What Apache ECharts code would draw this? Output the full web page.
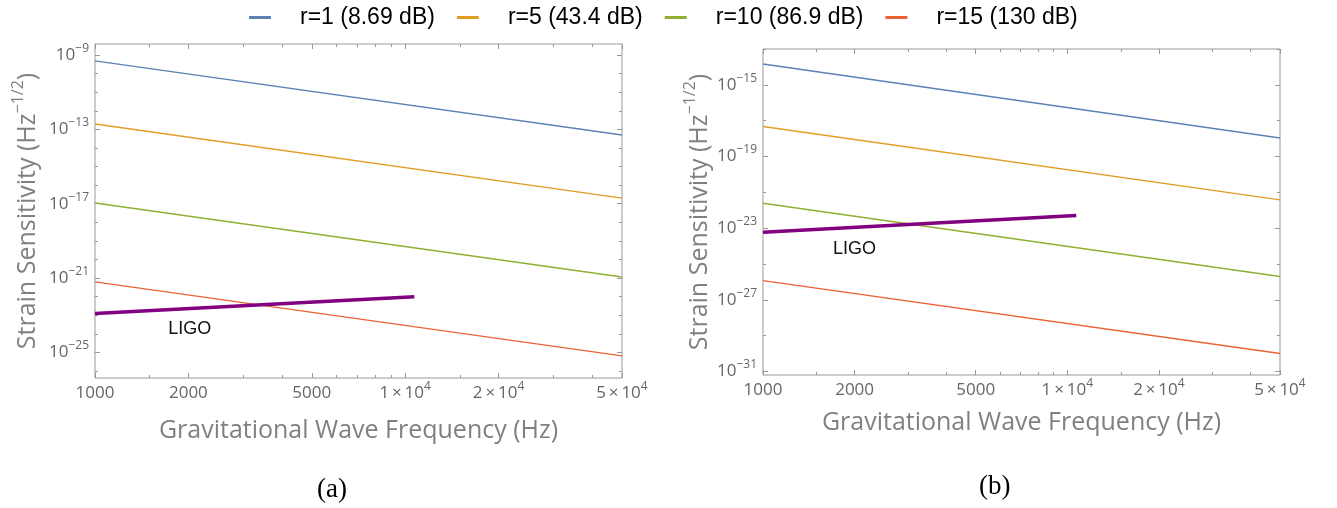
<!DOCTYPE html>
<html>
<head>
<meta charset="utf-8">
<script src="https://cdn.jsdelivr.net/npm/echarts@6/dist/echarts.min.js"></script>
<style>
    html, body { margin: 0; background: #fff; }
    #chart { width: 1337px; height: 508px; }
</style>
</head>
<body>
<div id="chart"></div>
<script>
// squeezing factors shown in the legend
const seriesNames = ['r=1 (8.69 dB)', 'r=5 (43.4 dB)', 'r=10 (86.9 dB)', 'r=15 (130 dB)'];
const seriesColors = ['#5E81B5', '#E19C24', '#8FB032', '#EB6235'];

// every curve is a straight line on log-log axes, read at both ends
const freqRange = [1000, 50000];

// panel (a): strain at 1000 Hz and at 50000 Hz
const panelAStart = [4.8e-10, 1.95e-13, 1.1e-17, 6.3e-22];
const panelAEnd = [5.0e-14, 2.0e-17, 1.15e-21, 6.6e-26];

// panel (b)
const panelBStart = [1.45e-14, 4.7e-18, 2.45e-22, 1.17e-26];
const panelBEnd = [1.07e-18, 3.8e-22, 2.0e-26, 1.0e-30];

// LIGO reference curve
const ligoFreq = [1000, 10700];
const ligoA = [1.26e-23, 1.0e-22];
const ligoB = [5.9e-24, 5.0e-23];

// ticks
const xMajorTicks = [1000, 2000, 5000, 10000, 20000, 50000];
const xMinorTicks = [1500, 3000, 4000, 6000, 7000, 8000, 9000, 15000, 30000, 40000];
const yMajorA = [-9, -13, -17, -21, -25];
const yMinorA = [-10, -11, -12, -14, -15, -16, -18, -19, -20, -22, -23, -24, -26];
const yMajorB = [-15, -19, -23, -27, -31];
const yMinorB = [-13, -17, -21, -25, -29];
const yRangeA = [-26.37, -8.41];
const yRangeB = [-31.2, -13.0];

const LOG = Math.log10;
const FONT = 'Open Sans';
const FRAME = '#999';
const LABEL = '#666';
const TITLE = '#808080';

function xLabel(v) {
    const f = Math.round(Math.pow(10, v));
    if (f < 10000) return '{b|' + f + '}';
    const e = Math.floor(LOG(f) + 1e-9);
    const m = Math.round(f / Math.pow(10, e));
    return '{b|' + m + '\u2009\u00d7\u200910}{s|' + e + '}';
}

function yLabel(v) {
    const e = Math.round(v);
    return '{b|10}{s|\u2212' + (-e) + '}';
}

function tick(values, length) {
    return {
        show: true,
        inside: true,
        length: length,
        customValues: values,
        lineStyle: { color: FRAME, width: 1 }
    };
}

function buildAxes(g, yRange, yMajor, yMinor, gaps) {
    const xMin = LOG(freqRange[0]);
    const xMax = LOG(freqRange[1]);
    const xMaj = xMajorTicks.map(LOG);
    const xMnr = xMinorTicks.map(LOG);

    const base = {
        gridIndex: g,
        type: 'value',
        axisLine: { show: false },
        splitLine: { show: false },
        axisLabel: { show: false }
    };
    const xb = Object.assign({}, base, { min: xMin, max: xMax });
    const yb = Object.assign({}, base, { min: yRange[0], max: yRange[1] });

    const labelRich = {
        b: { fontFamily: FONT, fontSize: 17, color: LABEL, lineHeight: 25 },
        s: { fontFamily: FONT, fontSize: 12, color: LABEL, verticalAlign: 'top' }
    };

    const xAxes = [
        Object.assign({}, xb, {
            position: 'bottom',
            axisTick: tick(xMaj, 5),
            axisLabel: { show: true, customValues: xMaj, margin: 3, formatter: xLabel, rich: labelRich },
            name: 'Gravitational Wave Frequency (Hz)',
            nameLocation: 'middle',
            nameGap: gaps[0],
            nameTextStyle: { fontFamily: FONT, fontSize: 25, color: TITLE }
        }),
        Object.assign({}, xb, { position: 'bottom', axisTick: tick(xMnr, 3) }),
        Object.assign({}, xb, { position: 'top', axisTick: tick(xMaj, 5) }),
        Object.assign({}, xb, { position: 'top', axisTick: tick(xMnr, 3) })
    ];

    const yAxes = [
        Object.assign({}, yb, {
            position: 'left',
            axisTick: tick(yMajor, 5),
            axisLabel: { show: true, customValues: yMajor, margin: 6, formatter: yLabel, rich: labelRich },
            name: '{m|Strain Sensitivity (Hz}{sup|\u22121/2}{m|)}',
            nameLocation: 'middle',
            nameGap: gaps[1],
            nameTextStyle: {
                rich: {
                    m: { fontFamily: FONT, fontSize: 25, color: TITLE, lineHeight: 36 },
                    sup: { fontFamily: FONT, fontSize: 16, color: TITLE, verticalAlign: 'top' }
                }
            }
        }),
        Object.assign({}, yb, { position: 'left', axisTick: tick(yMinor, 3) }),
        Object.assign({}, yb, { position: 'right', axisTick: tick(yMajor, 5) }),
        Object.assign({}, yb, { position: 'right', axisTick: tick(yMinor, 3) })
    ];

    return { xAxes, yAxes };
}

function panelSeries(g, starts, ends, ligo, ligoLabelAt) {
    const idx = g * 4;
    const list = seriesNames.map((name, i) => ({
        name: name,
        type: 'line',
        xAxisIndex: idx,
        yAxisIndex: idx,
        showSymbol: false,
        silent: true,
        lineStyle: { color: seriesColors[i], width: 1.4 },
        itemStyle: { color: seriesColors[i] },
        data: [
            [LOG(freqRange[0]), LOG(starts[i])],
            [LOG(freqRange[1]), LOG(ends[i])]
        ]
    }));

    list.push({
        name: 'LIGO',
        type: 'line',
        xAxisIndex: idx,
        yAxisIndex: idx,
        showSymbol: false,
        silent: true,
        z: 5,
        lineStyle: { color: '#800080', width: 3.5 },
        itemStyle: { color: '#800080' },
        data: ligoFreq.map((f, i) => [LOG(f), LOG(ligo[i])]),
        markPoint: {
            symbol: 'circle',
            symbolSize: 0,
            silent: true,
            label: {
                show: true,
                position: 'inside',
                formatter: 'LIGO',
                fontFamily: 'Liberation Sans',
                fontSize: 18,
                color: '#111'
            },
            data: [{ coord: [LOG(ligoLabelAt[0]), LOG(ligoLabelAt[1])] }]
        }
    });
    return list;
}

function initChart() {
    const chartDom = document.getElementById('chart');
    const myChart = echarts.init(chartDom);

    const a = buildAxes(0, yRangeA, yMajorA, yMinorA, [40, 49]);
    const b = buildAxes(1, yRangeB, yMajorB, yMinorB, [35, 45]);

    const option = {
        animation: false,
        backgroundColor: '#fff',
        legend: {
            top: 1,
            left: 244,
            data: seriesNames,
            icon: 'rect',
            itemWidth: 22,
            itemHeight: 3,
            itemGap: 22,
            formatter: name => '{sp| }' + name,
            textStyle: {
                fontFamily: 'Liberation Sans',
                fontSize: 23,
                color: '#000',
                rich: {
                    sp: { width: 24 }
                }
            }
        },
        grid: [
            { left: 95, top: 44, width: 527, height: 334, show: true, borderColor: FRAME, borderWidth: 1, outerBoundsMode: 'none' },
            { left: 763, top: 49, width: 517, height: 326, show: true, borderColor: FRAME, borderWidth: 1, outerBoundsMode: 'none' }
        ],
        xAxis: a.xAxes.concat(b.xAxes),
        yAxis: a.yAxes.concat(b.yAxes),
        series: panelSeries(0, panelAStart, panelAEnd, ligoA, [2020, 1.9e-24])
            .concat(panelSeries(1, panelBStart, panelBEnd, ligoB, [2000, 7e-25])),
        graphic: [
            {
                type: 'text',
                left: 317,
                top: 476,
                style: { text: '(a)', font: '27px "Liberation Serif"', fill: '#000' }
            },
            {
                type: 'text',
                left: 979,
                top: 473,
                style: { text: '(b)', font: '27px "Liberation Serif"', fill: '#000' }
            }
        ]
    };

    myChart.setOption(option);
}

initChart();
</script>
</body>
</html>
